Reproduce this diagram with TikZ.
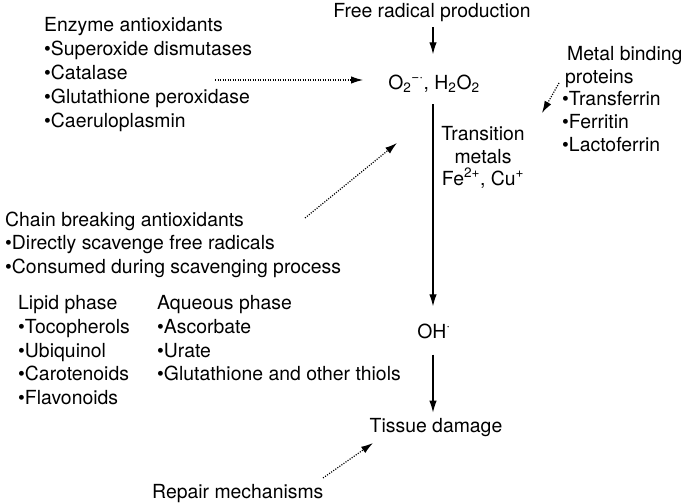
\documentclass[tikz,border=0pt]{standalone}
\usepackage{fontspec}
\setmainfont{TeX Gyre Heros}
\usetikzlibrary{arrows.meta}
\begin{document}
\begin{tikzpicture}[x=1pt,y=-1pt,
  txt/.style={inner sep=0pt, anchor=base west, font=\fontsize{19.4}{22}\selectfont},
  ctxt/.style={inner sep=0pt, anchor=base, font=\fontsize{19.4}{22}\selectfont},
  solidarr/.style={line width=1.2pt, -{Latex[length=12pt,width=7.5pt]}},
  dotarr/.style={line width=1.2pt, dash pattern=on 1.1pt off 1.4pt, -{Latex[length=12pt,width=7.5pt]}}]
\useasboundingbox (0,0) rectangle (685,503);
% main chain
\node[ctxt] (fr) at (432,18) {Free radical production};
\node[ctxt] (o2) at (434,89) {O\textsubscript{2}\textsuperscript{−·}, H\textsubscript{2}O\textsubscript{2}};
\node[ctxt] (oh) at (434,338) {OH\textsuperscript{·}};
\node[ctxt] (td) at (436,432) {Tissue damage};
\coordinate (spine) at (433,0);
% transition metals
\node[ctxt] (tm1) at (483,140) {Transition};
\node[ctxt] (tm2) at (483,163) {metals};
\node[ctxt] (tm3) at (483,185) {Fe\textsuperscript{2+}, Cu\textsuperscript{+}};
% enzyme antioxidants
\node[txt] (e0) at (44,32) {Enzyme antioxidants};
\node[txt] (e1) at (44,56) {•Superoxide dismutases};
\node[txt] (e2) at (44,79) {•Catalase};
\node[txt] (e3) at (44,103) {•Glutathione peroxidase};
\node[txt] (e4) at (44,127) {•Caeruloplasmin};
% metal binding proteins
\node[txt] (m0) at (567,60) {Metal binding};
\node[txt] (m1) at (565,83) {proteins};
\node[txt] (m2) at (562,105) {•Transferrin};
\node[txt] (m3) at (562,128) {•Ferritin};
\node[txt] (m4) at (562,151) {•Lactoferrin};
% chain breaking
\node[txt] (c0) at (5,226) {Chain breaking antioxidants};
\node[txt] (c1) at (5,249) {•Directly scavenge free radicals};
\node[txt] (c2) at (5,273) {•Consumed during scavenging process};
% lipid
\node[txt] (l0) at (18,309) {Lipid phase};
\node[txt] (l1) at (18,333) {•Tocopherols};
\node[txt] (l2) at (18,357) {•Ubiquinol};
\node[txt] (l3) at (18,380) {•Carotenoids};
\node[txt] (l4) at (18,404) {•Flavonoids};
% aqueous
\node[txt] (a0) at (157,309) {Aqueous phase};
\node[txt] (a1) at (157,333) {•Ascorbate};
\node[txt] (a2) at (157,357) {•Urate};
\node[txt] (a3) at (157,380) {•Glutathione and other thiols};
% repair
\node[txt] (rp) at (152,498) {Repair mechanisms};
% connector end points
\coordinate (es) at (215,80);
\coordinate (o2w) at (363,80);
\coordinate (cs) at (305,218);
\coordinate (o2sw) at (397,143);
\coordinate (ms) at (559,83);
\coordinate (o2e) at (542,113);
\coordinate (rs) at (323,478);
\coordinate (tdw) at (373,443);
% connectors
\draw[solidarr] ([yshift=-5pt]fr.south -| spine) -- ([yshift=20pt]o2.north -| spine);
\draw[solidarr] ([yshift=-12pt]o2.south -| spine) -- ([yshift=17pt]oh.north -| spine);
\draw[solidarr] ([yshift=-16pt]oh.south -| spine) -- ([yshift=5pt]td.north -| spine);
\draw[dotarr] (es) -- (o2w);
\draw[dotarr] (cs) -- (o2sw);
\draw[dotarr] (ms) -- (o2e);
\draw[dotarr] (rs) -- (tdw);
\end{tikzpicture}
\end{document}
